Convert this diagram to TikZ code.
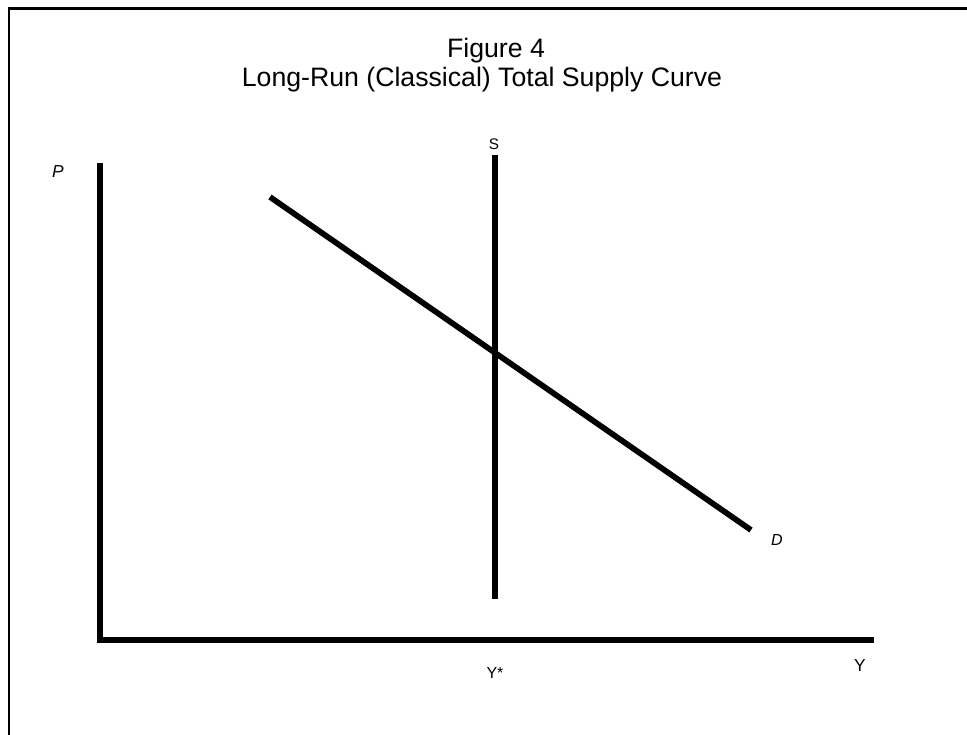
\documentclass[tikz,border=0pt]{standalone}
\usepackage{fontspec}
\setmainfont{Liberation Sans}
\usetikzlibrary{positioning}
\tikzset{
  frame/.style={line width=1.6pt},
  axis/.style={line width=4.3pt},
  curve/.style={line width=4.3pt},
  title/.style={anchor=base, font=\fontsize{20}{18}\selectfont},
  label/.style={anchor=base, inner sep=0pt, font=\fontsize{13}{15}\selectfont},
  small label/.style={anchor=base, inner sep=0pt, font=\fontsize{11.5}{13}\selectfont},
}

\begin{document}
\begin{tikzpicture}[x=0.75pt, y=-0.75pt]
  \useasboundingbox (0,0) rectangle (967,735);

  % Frame (top and left edges)
  \draw[frame] (9,735) -- (9,8.5) -- (967,8.5);

  % Title
  \node[title] (title1) at (496,58) {Figure 4};
  \node[title] (title2) at (482,86.5) {Long-Run (Classical) Total Supply Curve};

  % Axes
  \coordinate (origin) at (100,640);
  \coordinate (ptop) at (100,163);
  \coordinate (yend) at (874,640);
  \draw[axis] (ptop) -- (origin) -- (yend);
  \node[label] (plabel) at (58,177) {\itshape P};
  \node[label] (ylabel) at (860,671) {Y};
  \node[small label, font=\fontsize{12}{14}\selectfont] (ystar) at (495,678) {Y*};

  % Supply
  \coordinate (stop) at (495,155);
  \coordinate (sbot) at (495,599);
  \draw[curve] (stop) -- (sbot);
  \node[small label] (slabel) at (494,149) {S};

  % Demand
  \coordinate (dtop) at (270,197);
  \coordinate (dbot) at (751,530);
  \draw[curve] (dtop) -- (dbot);
  \node[small label, font=\fontsize{12}{14}\selectfont] (dlabel) at (777,545) {\itshape D};
\end{tikzpicture}
\end{document}
